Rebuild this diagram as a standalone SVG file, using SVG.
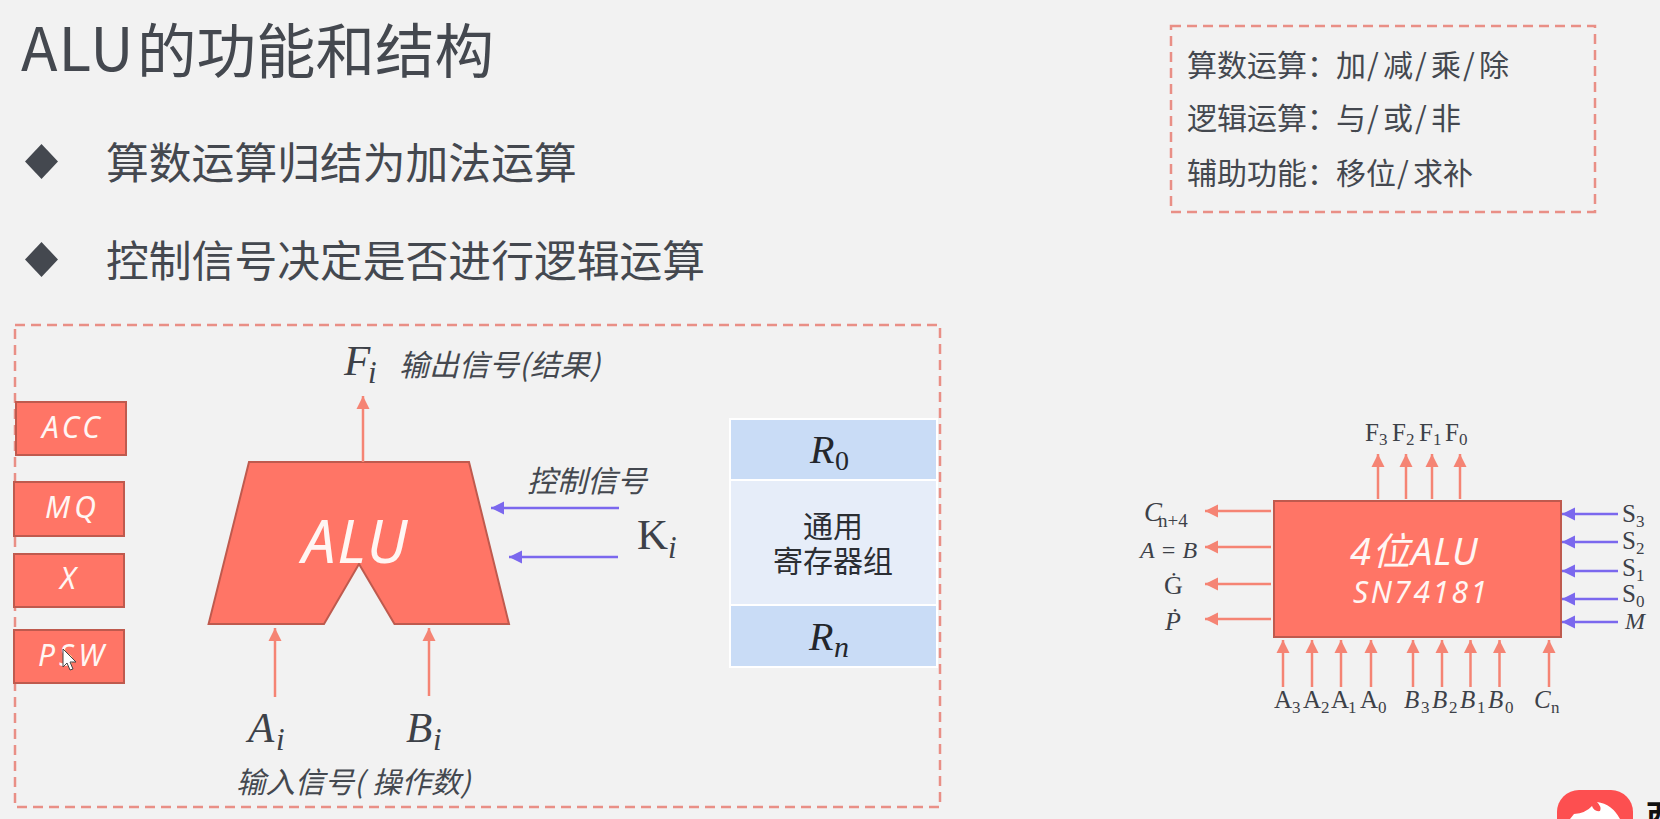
<svg xmlns="http://www.w3.org/2000/svg" width="1660" height="819" viewBox="0 0 1660 819">
<style>
text{font-family:"Noto Sans","Noto Sans CJK SC",sans-serif;fill:#44484f}
.cjk{font-family:"Noto Sans CJK SC",sans-serif}
.it{font-style:italic}
.m{font-family:"Liberation Serif","DejaVu Serif",serif;fill:#3d4148}
.red{fill:#ff7566;stroke:#bf5a4e;stroke-width:2}
.dash{fill:none;stroke:#e98f86;stroke-width:2.500;stroke-dasharray:10 6}
.w{fill:#fff6f3;font-family:"Noto Sans","Noto Sans CJK SC",sans-serif;font-style:italic}
.ln{stroke:#f58474;stroke-width:2.500;fill:none;marker-end:url(#ra)}
.lp{stroke:#7b68ee;stroke-width:2.500;fill:none;marker-end:url(#pa)}
.big{font-size:43px}.sub{font-size:31px}
.s{font-size:25px}.ss{font-size:17px}
.tx{font-size:30px}
</style>
<defs>
<marker id="ra" markerUnits="userSpaceOnUse" markerWidth="14" markerHeight="14" refX="13" refY="7" orient="auto"><path d="M0 0.500L13 7L0 13.500Z" fill="#f58474"/></marker>
<marker id="pa" markerUnits="userSpaceOnUse" markerWidth="14" markerHeight="14" refX="13" refY="7" orient="auto"><path d="M0 0.500L13 7L0 13.500Z" fill="#7b68ee"/></marker>
</defs>
<rect width="1660" height="819" fill="#f2f2f2"/>

<g id="title"><text x="21" y="71" font-size="60" class="cjk" letter-spacing="1">ALU</text><text x="137" y="73" font-size="59.500" class="cjk">的功能和结构</text></g>
<g id="bullets">
<path d="M41.500 144L58 161.500L41.500 179L25 161.500Z" fill="#44484f"/>
<text x="106" y="179" font-size="42.800" class="cjk">算数运算归结为加法运算</text>
<path d="M41.500 242L58 259.500L41.500 277L25 259.500Z" fill="#44484f"/>
<text x="106" y="277" font-size="42.800" class="cjk">控制信号决定是否进行逻辑运算</text>
</g>

<g id="functions">
<rect class="dash" x="1171" y="26" width="424" height="186"/>
<text class="cjk tx" y="76"><tspan x="1187">算数运算：</tspan><tspan x="1336">加</tspan><tspan x="1367">/</tspan><tspan x="1383">减</tspan><tspan x="1415">/</tspan><tspan x="1431">乘</tspan><tspan x="1463">/</tspan><tspan x="1479">除</tspan></text>
<text class="cjk tx" y="129"><tspan x="1187">逻辑运算：</tspan><tspan x="1336">与</tspan><tspan x="1367">/</tspan><tspan x="1383">或</tspan><tspan x="1415">/</tspan><tspan x="1431">非</tspan></text>
<text class="cjk tx" y="184"><tspan x="1187">辅助功能：</tspan><tspan x="1336">移</tspan><tspan x="1366">位</tspan><tspan x="1397">/</tspan><tspan x="1413">求</tspan><tspan x="1443">补</tspan></text>
</g>

<rect id="frame" class="dash" x="15" y="325" width="925" height="482"/>

<g id="acc"><rect class="red" x="16" y="402" width="110" height="53"/><text class="w" x="42" y="438" font-size="30" letter-spacing="3.500">ACC</text></g>
<g id="mq"><rect class="red" x="14" y="482" width="110" height="54"/><text class="w" x="45" y="518" font-size="30" letter-spacing="4">MQ</text></g>
<g id="x"><rect class="red" x="14" y="554" width="110" height="53"/><text class="w" x="60" y="589" font-size="30">X</text></g>
<g id="psw"><rect class="red" x="14" y="630" width="110" height="53"/><text class="w" x="38" y="666" font-size="30" letter-spacing="4">PSW</text></g>
<path id="cursor" d="M63 649L63 667L67 663L70 670L73 669L70 662L76 662Z" fill="#fff" stroke="#444" stroke-width="1"/>

<g id="alu"><path class="red" d="M249 462L469 462L509 624L394.500 624L359 564L324 624L208.600 624Z"/><text class="w" x="302" y="563" font-size="60" letter-spacing="1.500">ALU</text></g>

<g id="registers">
<rect x="730" y="419" width="207" height="61" fill="#c9dcf6" stroke="#fff" stroke-width="2"/>
<rect x="730" y="480" width="207" height="125" fill="#e6edf9" stroke="#fff" stroke-width="2"/>
<rect x="730" y="605" width="207" height="62" fill="#c9dcf6" stroke="#fff" stroke-width="2"/>
<text class="m it" x="810" y="463" font-size="40" style="fill:#23262b">R</text><text class="m" x="835" y="470" font-size="28" style="fill:#23262b">0</text>
<text class="cjk" x="833" y="537" font-size="30" text-anchor="middle" style="fill:#2b2e33">通用</text>
<text class="cjk" x="833" y="572" font-size="30" text-anchor="middle" style="fill:#2b2e33">寄存器组</text>
<text class="m it" x="809" y="650" font-size="40" style="fill:#23262b">R</text><text class="m it" x="834" y="657" font-size="30" style="fill:#23262b">n</text>
</g>

<g id="chip"><rect class="red" x="1274" y="501" width="287" height="136"/>
<text class="w" x="1350" y="565" font-size="38" letter-spacing="1">4位ALU</text>
<text class="w" x="1353" y="603" font-size="30" letter-spacing="2.500">SN74181</text></g>

<g id="connectors">
<path class="ln" d="M363 462V396"/><path class="ln" d="M275 697V628"/><path class="ln" d="M429 696V628"/>
<path class="lp" d="M619 508H491"/><path class="lp" d="M618 557H509"/>
<path class="ln" d="M1378 499V454"/><path class="ln" d="M1406 499V454"/><path class="ln" d="M1432 499V454"/><path class="ln" d="M1460 499V454"/>
<path class="ln" d="M1271 511H1205"/><path class="ln" d="M1271 547H1205"/><path class="ln" d="M1271 584H1205"/><path class="ln" d="M1271 619H1205"/>
<path class="lp" d="M1618 514H1562"/><path class="lp" d="M1618 542H1562"/><path class="lp" d="M1618 571H1562"/><path class="lp" d="M1618 599H1562"/><path class="lp" d="M1618 622H1562"/>
<path class="ln" d="M1283 687V640"/><path class="ln" d="M1312 687V640"/><path class="ln" d="M1341 687V640"/><path class="ln" d="M1371 687V640"/><path class="ln" d="M1413 687V640"/><path class="ln" d="M1442 687V640"/><path class="ln" d="M1470.500 687V640"/><path class="ln" d="M1499.500 687V640"/><path class="ln" d="M1549 687V640"/>
</g>

<g id="labels">
<text class="m it big" x="344" y="375">F</text><text class="m it sub" x="368" y="383">i</text>
<text class="cjk it" x="399" y="376" font-size="30">输出信号(<tspan x="530">结果)</tspan></text>
<text class="m it big" x="248" y="742">A</text><text class="m it sub" x="276" y="750">i</text>
<text class="m it big" x="406" y="742">B</text><text class="m it sub" x="433" y="750">i</text>
<text class="cjk it" x="236" y="793" font-size="29.500">输入信号(<tspan x="372">操作数)</tspan></text>
<text class="cjk it" x="527" y="492" font-size="30">控制信号</text>
<text class="m big" x="637" y="549">K</text><text class="m it sub" x="668" y="558">i</text>

<text class="m s" x="1365" y="441">F</text><text class="m ss" x="1379" y="445">3</text>
<text class="m s" x="1392" y="441">F</text><text class="m ss" x="1406" y="445">2</text>
<text class="m s" x="1419" y="441">F</text><text class="m ss" x="1433" y="445">1</text>
<text class="m s" x="1445" y="441">F</text><text class="m ss" x="1459" y="445">0</text>

<text class="m it" x="1144" y="521" font-size="27">C</text><text class="m" x="1158" y="527" font-size="19">n+4</text>
<text class="m it" x="1140" y="558" font-size="24">A = B</text>
<text class="m" x="1164" y="594" font-size="26">Ġ</text>
<text class="m it" x="1165" y="630" font-size="26">Ṗ</text>

<text class="m s" x="1622" y="522">S</text><text class="m ss" x="1636" y="527">3</text>
<text class="m s" x="1622" y="549">S</text><text class="m ss" x="1636" y="554">2</text>
<text class="m s" x="1622" y="576">S</text><text class="m ss" x="1636" y="581">1</text>
<text class="m s" x="1622" y="602">S</text><text class="m ss" x="1636" y="607">0</text>
<text class="m it" x="1625" y="629" font-size="24">M</text>

<text class="m s" x="1274" y="708">A</text><text class="m ss" x="1292" y="713">3</text>
<text class="m s" x="1303" y="708">A</text><text class="m ss" x="1321" y="713">2</text>
<text class="m s" x="1331" y="708">A</text><text class="m ss" x="1348" y="713">1</text>
<text class="m s" x="1360" y="708">A</text><text class="m ss" x="1378" y="713">0</text>
<text class="m it s" x="1404" y="708">B</text><text class="m ss" x="1421" y="713">3</text>
<text class="m it s" x="1432" y="708">B</text><text class="m ss" x="1449" y="713">2</text>
<text class="m it s" x="1460" y="708">B</text><text class="m ss" x="1477" y="713">1</text>
<text class="m it s" x="1488" y="708">B</text><text class="m ss" x="1505" y="713">0</text>
<text class="m it s" x="1534" y="708">C</text><text class="m ss" x="1551" y="713">n</text>
</g>

<g id="logo">
<rect x="1557" y="790" width="76" height="70" rx="22" fill="#fd4f50"/>
<path d="M1574 814Q1586 813 1592 806Q1594 812 1600 811Q1602 807 1597 802Q1612 804 1620 819H1570Z" fill="#fff"/>
<text x="1646" y="828" font-size="32" font-weight="700" class="cjk" style="fill:#111">西</text>
</g>
</svg>
